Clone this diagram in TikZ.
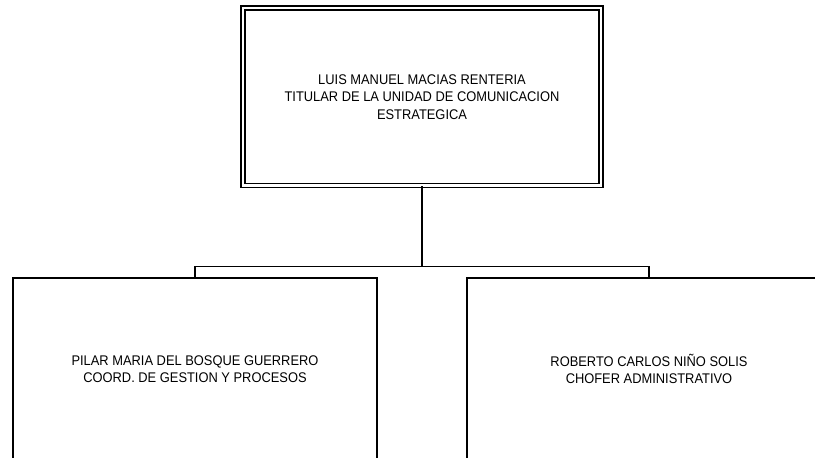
\documentclass[tikz,border=0pt]{standalone}
\usepackage{fontspec}
\setmainfont{Liberation Sans}[FakeStretch=0.92]
\tikzset{
  puesto/.style={draw, line width=1.5pt, align=center, minimum width=364pt,
    minimum height=182pt, inner sep=0pt, font=\fontsize{14}{17.5}\selectfont},
  titular/.style={puesto, line width=1.6pt, double, double distance=2.4pt,
    minimum width=358pt, minimum height=177.5pt},
  enlace/.style={line width=1.3pt}
}
\begin{document}
\begin{tikzpicture}[x=1pt, y=-1pt]
  \useasboundingbox (0,0) rectangle (815,458);
  \clip (0,0) rectangle (815,458);
  % Head of the unit (top)
  \node[titular] (titular) at (422,96.75) {LUIS MANUEL MACIAS RENTERIA\\
    TITULAR DE LA UNIDAD DE COMUNICACION\\ ESTRATEGICA};

  % Second level: left and right
  \node[puesto] (coord) at (195,369) {PILAR MARIA DEL BOSQUE GUERRERO\\
    COORD. DE GESTION Y PROCESOS};
  \node[puesto] (chofer) at (649,369) {ROBERTO CARLOS NIÑO SOLIS\\
    CHOFER ADMINISTRATIVO};

  % Connectors
  \coordinate (bus) at (422,266.5);
  \draw[enlace] (titular.south) -- (bus);
  \draw[enlace] (coord.north) |- (bus) -| (chofer.north);
\end{tikzpicture}
\end{document}
